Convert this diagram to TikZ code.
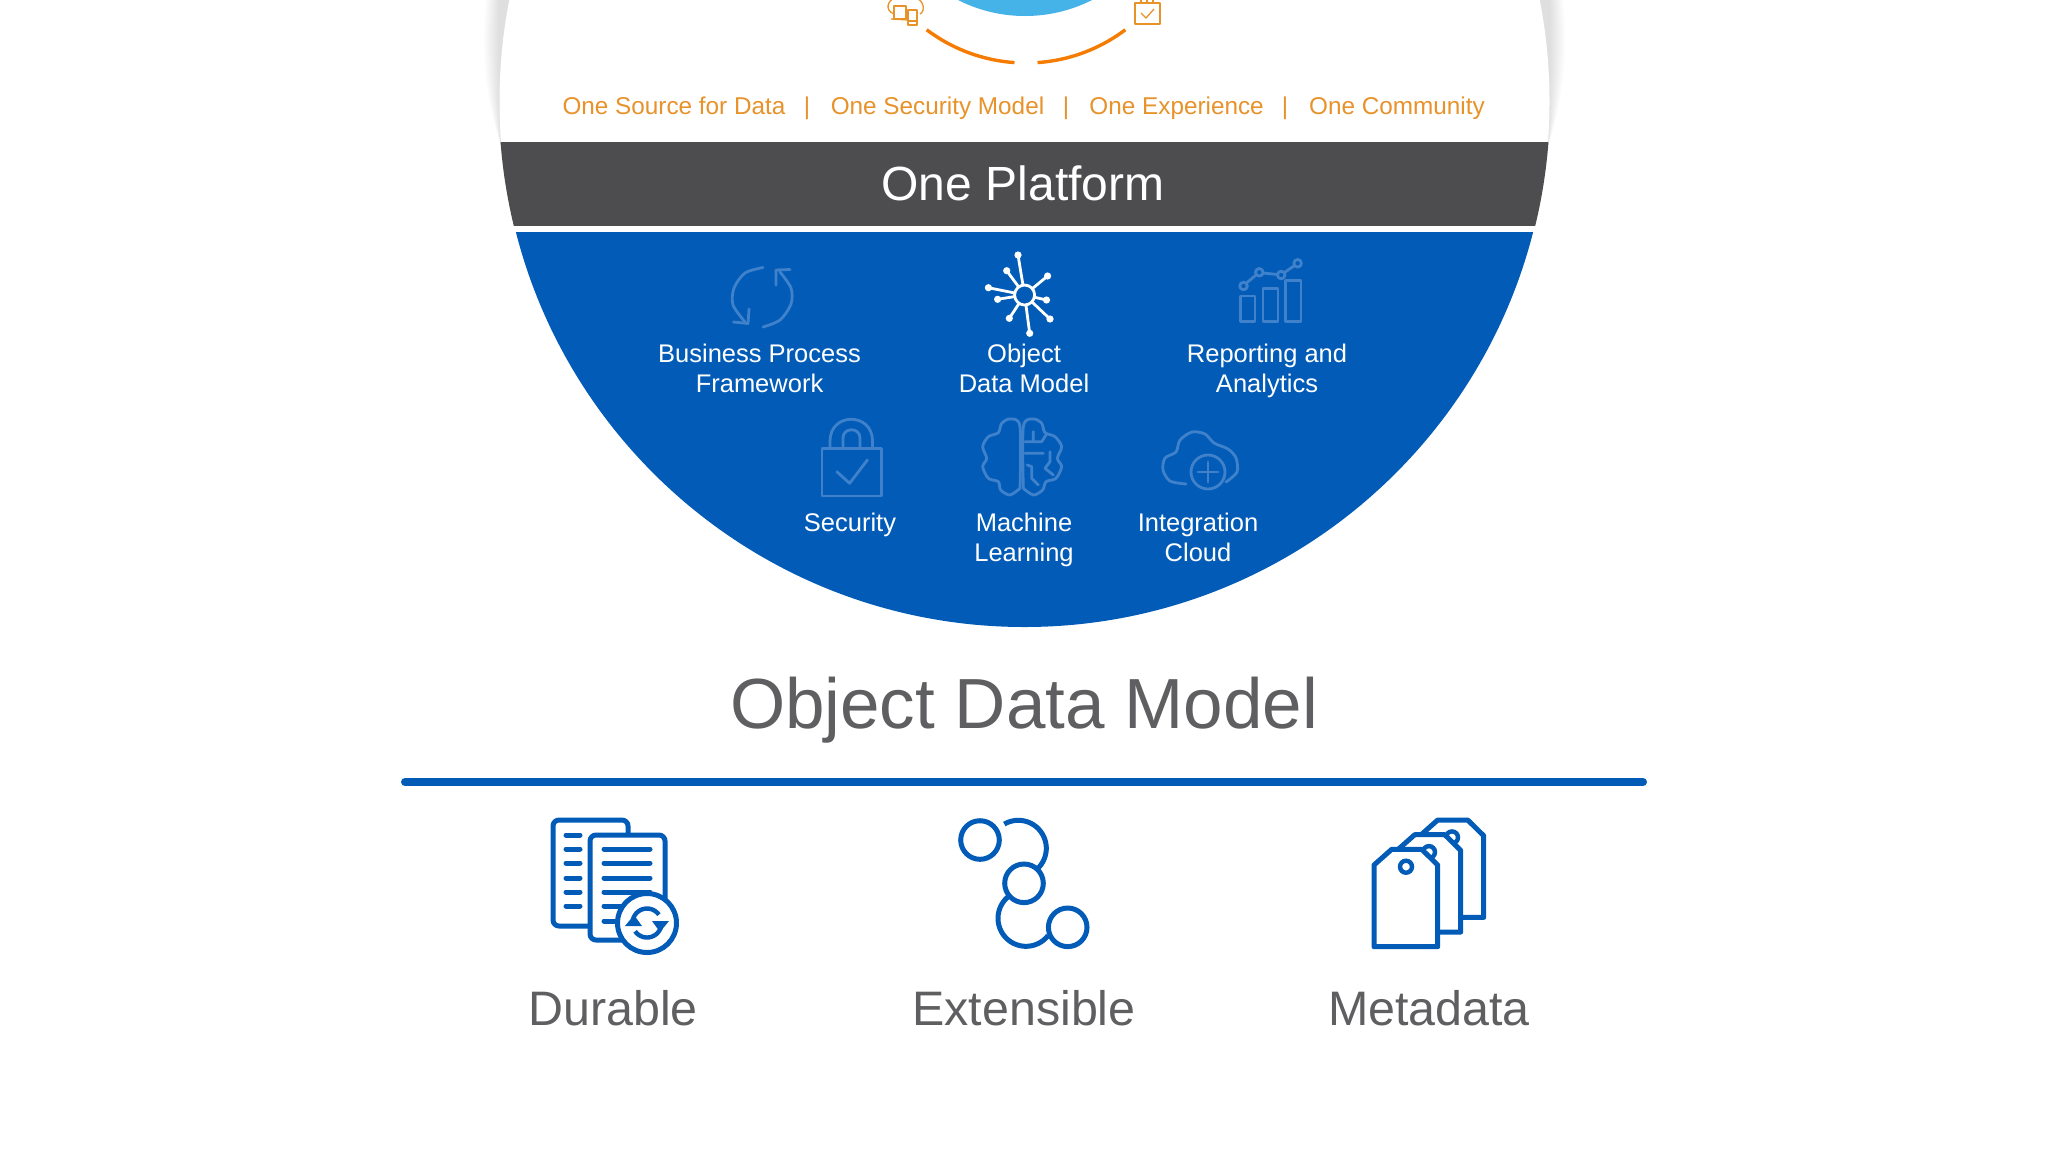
\documentclass[tikz,border=0pt]{standalone}
\usepackage{fontspec}
\setmainfont{Liberation Sans}
\definecolor{cblue}{HTML}{025CB7}
\definecolor{cfade}{HTML}{3F82CB}
\definecolor{cdark}{HTML}{4D4C4F}
\definecolor{cgrey}{HTML}{5F5F62}
\definecolor{corange}{HTML}{E8922A}
\definecolor{carc}{HTML}{F57C00}
\definecolor{csky}{HTML}{45B2E8}
\tikzset{
 x=1pt,y=-1pt,
 orangetxt/.style={anchor=base,text=corange,inner sep=0pt,font=\fontsize{24.3}{30}\selectfont},
 wlabel/.style={anchor=base,text=white,inner sep=0pt,align=center,font=\fontsize{25.5}{30}\selectfont},
 bigtxt/.style={anchor=base,text=cgrey,inner sep=0pt,font=\fontsize{48.4}{60}\selectfont},
 fade/.style={draw=cfade,line width=2.8pt,line join=round,line cap=round},
 star/.style={draw=white,line width=2.8pt,line cap=round},
 bluei/.style={draw=cblue,line width=5pt,line join=round,line cap=round},
 ticon/.style={draw=corange,line width=1.3pt,line join=round},
}
\begin{document}
\begin{tikzpicture}
\useasboundingbox (0,0) rectangle (2048,1152);
\fill[white] (0,0) rectangle (2048,1152);
% soft shadow
\begin{scope}
\clip (440,0) rectangle (1610,146);
\foreach \a in {541,540,539,538,537,536,535,534,533,532,531,530,529,528,527,526}{
 \pgfmathsetmacro{\bb}{105/sqrt(1-(523.7/\a)*(523.7/\a))}
 \fill[black,opacity=0.009] (1024.5,40) ellipse[x radius=\a,y radius=\bb];
}
\end{scope}
% disc
\fill[white] (1024.5,101.5) circle[radius=525];
\begin{scope}
\clip (1024.5,101.5) circle[radius=525.5];
\fill[cdark] (400,142) rectangle (1650,226);
\end{scope}
\begin{scope}
\clip (1024.5,102.2) circle[radius=524.8];
\fill[cblue] (400,232) rectangle (1650,640);
\end{scope}
% sky blob and orange arcs
\begin{scope}
\clip (0,0) rectangle (2048,40);
\fill[csky] (1025,-132) circle[radius=148];
\end{scope}
\draw[carc,line width=3.4pt] plot[smooth,domain=127:94,samples=20] ({1026+165*cos(\x)},{-102+165*sin(\x)});
\draw[carc,line width=3.4pt] plot[smooth,domain=86:53,samples=20] ({1026+165*cos(\x)},{-102+165*sin(\x)});
% device icon
\begin{scope}
\clip (880,0) rectangle (930,30);
\draw[ticon] (894,14) .. controls (884,10) and (888,0) .. (895,-2);
\draw[ticon] (915,-2) .. controls (925,0) and (925,12) .. (920,14);
\draw[ticon,fill=white] (894,6) rectangle (906,19);
\draw[ticon] (891,19) -- (908,20);
\draw[ticon,fill=white] (908,10) rectangle (917,25);
\draw[ticon] (908,21) -- (917,21);
\end{scope}
% check icon
\begin{scope}
\clip (1125,0) rectangle (1170,30);
\draw[ticon] (1135,3) rectangle (1160,24);
\draw[ticon] (1141,0) -- (1141,3) (1147,0) -- (1147,3) (1153,0) -- (1153,3);
\draw[ticon] (1141,13) -- (1146,18) -- (1154,9);
\end{scope}
% orange line
\node[orangetxt] (t1) at (674,114) {One Source for Data};
\node[orangetxt] (s1) at (807,114) {|};
\node[orangetxt] (t2) at (937.5,114) {One Security Model};
\node[orangetxt] (s2) at (1066,114) {|};
\node[orangetxt] (t3) at (1176.6,114) {One Experience};
\node[orangetxt] (s3) at (1285,114) {|};
\node[orangetxt] (t4) at (1397,114) {One Community};
\node[anchor=base,text=white,inner sep=0pt,font=\fontsize{48}{58}\selectfont] (plat) at (1023,200.5) {One Platform};
% business process icon
\draw[fade] plot[smooth] coordinates {(763,267.5) (745,273) (734,288) (733,305) (745,322)};
\draw[fade] (733.5,322) -- (748,323.5) -- (749,309);
\draw[fade] plot[smooth] coordinates {(763,327) (780,320) (791,304) (791,288) (780,272)};
\draw[fade] (790,269.5) -- (776,270) -- (776,285);
% star icon
\foreach \px/\py in {1018/255,1047.6/276,1006.7/270.7,988.4/287.7,997.6/299.3,1046.5/300,1009.3/318.3,1050/319,1029.7/333.3}{
 \draw[star] (1024.6,295) -- (\px,\py);
 \fill[white] (\px,\py) circle[radius=3.6];
}
\draw[star,fill=cblue] (1024.6,295) circle[radius=10];
% reporting icon
\draw[fade] (1240.4,296) rectangle (1255,321.7);
\draw[fade] (1262.9,288.3) rectangle (1278,321.7);
\draw[fade] (1285.8,280.7) rectangle (1301,321.7);
\draw[fade] (1243.5,286) circle[radius=3.8] (1259.3,272.3) circle[radius=3.8] (1281.2,275) circle[radius=3.8] (1297.6,263.3) circle[radius=3.8];
\draw[fade] (1246.5,283) -- (1256,275) (1263,273) -- (1277.5,274.5) (1284.5,272.5) -- (1294.5,265.5);
% security icon
\draw[fade] (822,448.3) rectangle (881.7,496);
\draw[fade] (830,448) -- (830,441) .. controls (830,412) and (872.5,412) .. (872.5,441) -- (872.5,448);
\draw[fade] (843,448) -- (843,438) .. controls (843,427) and (860,427) .. (860,438) -- (860,448);
\draw[fade] (836.8,471.7) -- (849.6,483.3) -- (867.4,460);
% brain icon
\begin{scope}[shift={(970,410)},x=0.3333pt,y=-0.3333pt]
\draw[fade] plot[smooth] coordinates {(150,235) (120,255) (92,240) (85,215) (55,205) (38,170) (50,145) (38,110) (55,80) (85,68) (95,40) (120,27) (150,50) (150,235)};
\draw[fade] plot[smooth] coordinates {(160,235) (190,255) (218,240) (228,215) (258,205) (275,170) (262,145) (275,110) (255,80) (225,68) (215,40) (190,27) (160,50) (160,235)};
\draw[fade] (165,95) -- (215,95) -- (228,75) (190,95) -- (190,65) (165,130) -- (220,130) (240,125) -- (240,155) -- (225,175) -- (250,195) (172,165) -- (185,170) -- (185,205) -- (205,225);
\end{scope}
% cloud icon
\draw[fade] plot[smooth] coordinates {(1186,484) (1170,481) (1163,470) (1165,458) (1176,452) (1180,440) (1192,432) (1205,434) (1214,443) (1228,449) (1236,458) (1237,472) (1226,482)};
\draw[fade,fill=cblue] (1208,472) circle[radius=17];
\draw[fade] (1208,462) -- (1208,482) (1198,472) -- (1218,472);
% labels in blue
\node[wlabel] (b1) at (759.5,362) {Business Process};
\node[wlabel] (b2) at (759.5,392) {Framework};
\node[wlabel] (o1) at (1024,362) {Object};
\node[wlabel] (o2) at (1024,392) {Data Model};
\node[wlabel] (r1) at (1267,362) {Reporting and};
\node[wlabel] (r2) at (1267,392) {Analytics};
\node[wlabel] (se) at (850,531) {Security};
\node[wlabel] (m1) at (1024,531) {Machine};
\node[wlabel] (m2) at (1024,561) {Learning};
\node[wlabel] (i1) at (1198,531) {Integration};
\node[wlabel] (i2) at (1198,561) {Cloud};
% title and rule
\node[anchor=base,text=cgrey,inner sep=0pt,font=\fontsize{71}{84}\selectfont] (title) at (1024,728) {Object Data Model};
\draw[cblue,line width=8pt,line cap=round] (405,782) -- (1643,782);
% Durable icon
\draw[bluei,fill=white,rounded corners=6pt] (553,820) rectangle (628,926);
\foreach \yy in {835,849,863,878,892,906}{\draw[bluei] (566,\yy) -- (580,\yy);}
\draw[bluei,fill=white,rounded corners=6pt] (590,835) rectangle (665,940);
\foreach \yy in {849,863,878,892,906,921}{\draw[bluei] (604,\yy) -- (650,\yy);}
\draw[bluei,fill=white] (647,923) circle[radius=29.5];
\draw[cblue,line width=4.4pt] plot[smooth,domain=195:325,samples=15] ({647+14.5*cos(\x)},{923+14.5*sin(\x)});
\draw[cblue,line width=4.4pt] plot[smooth,domain=15:145,samples=15] ({647+14.5*cos(\x)},{923+14.5*sin(\x)});
\fill[cblue] (625,926) -- (642,926) -- (634,915) -- cycle;
\fill[cblue] (652,921) -- (669,921) -- (660,932) -- cycle;
% Extensible icon
\draw[bluei] (980,840) circle[radius=19.3];
\draw[bluei] (1024,883.3) circle[radius=19.3];
\draw[bluei] (1067.7,927.3) circle[radius=19.3];
\draw[bluei,line cap=butt] plot[smooth,domain=-120:52,samples=40] ({1018.3+28*cos(\x)},{848.3+28*sin(\x)});
\draw[bluei,line cap=butt] plot[smooth,domain=38:232,samples=40] ({1026+28*cos(\x)},{918.3+28*sin(\x)});
% Metadata icon
\foreach \dx/\dy in {46/-29.3,23/-14.6,0/0}{
\begin{scope}[shift={(\dx,\dy)}]
 \draw[bluei,fill=white] (1374,946.7) -- (1437.7,946.7) -- (1437.7,865) -- (1421.7,849.3) -- (1391.7,849.3) -- (1374,865) -- cycle;
 \draw[cblue,line width=4.4pt] (1406,866.7) circle[radius=6];
\end{scope}}
% labels
\node[bigtxt] (d) at (613,1025.5) {Durable};
\node[bigtxt] (e) at (1024,1025.5) {Extensible};
\node[bigtxt] (m) at (1429,1025.5) {Metadata};
\end{tikzpicture}
\end{document}
